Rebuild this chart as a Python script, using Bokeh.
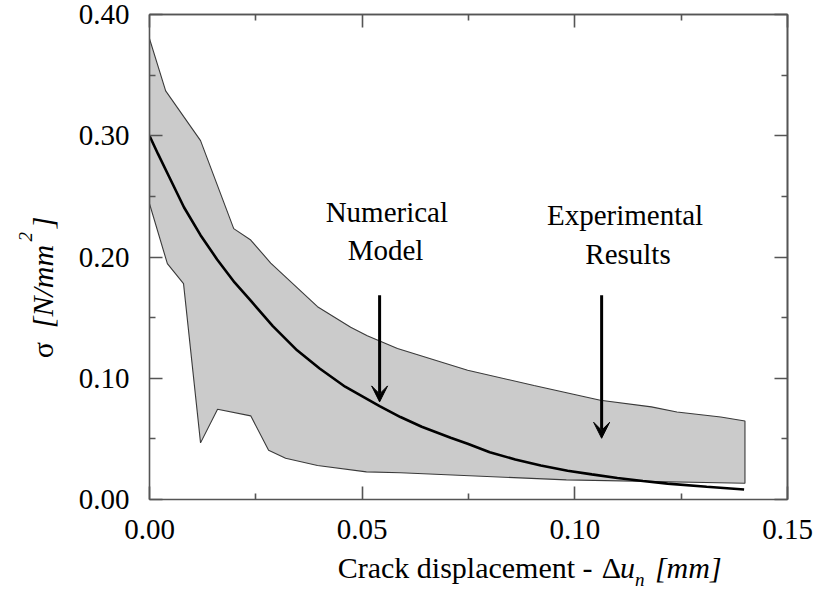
import math
from bokeh.plotting import figure
from bokeh.layouts import row, column
from bokeh.models import (Range1d, LinearAxis, FixedTicker, Label, Arrow, VeeHead)
from bokeh.embed import file_html
from bokeh.resources import INLINE

# ---------------- data ----------------
upper_x = [0.0, 0.0038, 0.012, 0.0198, 0.0238, 0.0285, 0.0395, 0.0473, 0.0512,
           0.0583, 0.0748, 0.0904, 0.106, 0.118, 0.124, 0.1343, 0.14]
upper_y = [0.380, 0.337, 0.296, 0.2234, 0.214, 0.195, 0.159, 0.142, 0.135,
           0.1245, 0.1066, 0.094, 0.0819, 0.0764, 0.0722, 0.068, 0.0648]
lower_x = [0.0, 0.0042, 0.008, 0.012, 0.016, 0.0238, 0.028, 0.032, 0.0395,
           0.051, 0.059, 0.098, 0.14]
lower_y = [0.244, 0.1945, 0.178, 0.0467, 0.0744, 0.069, 0.0406, 0.034, 0.028,
           0.0228, 0.022, 0.0162, 0.0134]
model_x = [0.0, 0.002, 0.0045, 0.0081, 0.012, 0.0159, 0.02, 0.0238, 0.029,
           0.0347, 0.04, 0.046, 0.0541, 0.059, 0.064, 0.0708, 0.0748, 0.08,
           0.086, 0.092, 0.0983, 0.104, 0.11, 0.116, 0.1218, 0.131, 0.1398]
model_y = [0.300, 0.285, 0.267, 0.241, 0.218, 0.198, 0.179, 0.164, 0.143,
           0.123, 0.108, 0.093, 0.077, 0.068, 0.060, 0.051, 0.046, 0.039,
           0.033, 0.028, 0.0237, 0.0207, 0.0178, 0.0152, 0.0131, 0.0105, 0.0082]

x_ticks = [0.0, 0.05, 0.10, 0.15]
x_tick_labels = ["0.00", "0.05", "0.10", "0.15"]
x_minor = [0.025, 0.075, 0.125]
y_ticks = [0.0, 0.10, 0.20, 0.30, 0.40]
y_tick_labels = ["0.00", "0.10", "0.20", "0.30", "0.40"]
y_minor = [0.05, 0.15, 0.25, 0.35]

arrow_x = [0.0541, 0.1063]
arrow_top = [0.1684, 0.1684]
arrow_tip = [0.0805, 0.0505]

FONT = "Liberation Serif"
AX = "#555555"

LW = 66          # width of the y-label strip
BH = 40          # height of the x-label strip
W, H = 816, 592

xr = Range1d(0, 0.15)
yr = Range1d(0, 0.40)


def bare(fig):
    fig.outline_line_color = None
    fig.grid.visible = False
    fig.background_fill_color = "white"
    fig.border_fill_color = "white"
    return fig


p = bare(figure(width=W - LW, height=H - BH, output_backend="svg",
                toolbar_location=None, x_range=xr, y_range=yr,
                x_axis_location=None, y_axis_location=None,
                min_border_left=149 - LW, min_border_right=29,
                min_border_top=14, min_border_bottom=H - BH - 499))

# envelope of experimental results
px = upper_x + lower_x[::-1]
py = upper_y + lower_y[::-1]
p.patch(px, py, fill_color="#cbcbcb", line_color="#3a3a3a", line_width=1.1)
# numerical model
p.line(model_x, model_y, line_color="black", line_width=2.6)


def style_axis(ax):
    ax.axis_line_color = AX
    ax.axis_line_width = 1.6
    ax.major_tick_line_color = AX
    ax.minor_tick_line_color = AX
    ax.major_tick_line_width = 1.6
    ax.minor_tick_line_width = 1.6
    ax.major_tick_in = 13
    ax.major_tick_out = 0
    ax.minor_tick_in = 6
    ax.minor_tick_out = 0
    return ax


def label_axis(ticks, labels, minor, standoff):
    ax = style_axis(LinearAxis(ticker=FixedTicker(ticks=ticks, minor_ticks=minor)))
    ax.major_label_overrides = {t: l for t, l in zip(ticks, labels)}
    ax.major_label_text_font = FONT
    ax.major_label_text_font_size = "29px"
    ax.major_label_text_color = "black"
    ax.major_label_standoff = standoff
    return ax


def plain_axis(positions, length):
    ax = style_axis(LinearAxis(ticker=FixedTicker(ticks=[], minor_ticks=positions)))
    ax.minor_tick_in = length
    ax.major_label_standoff = 0
    return ax


p.add_layout(label_axis(x_ticks, x_tick_labels, x_minor, 20), "below")
p.add_layout(label_axis(y_ticks, y_tick_labels, y_minor, 20), "left")
p.add_layout(plain_axis(x_ticks, 13), "above")
p.add_layout(plain_axis(x_minor, 6), "above")
p.add_layout(plain_axis(y_ticks, 13), "right")
p.add_layout(plain_axis(y_minor, 6), "right")


def lab(fig, x, y, text, size="29px", style="normal", align="left", angle=0):
    fig.add_layout(Label(x=x, y=y, text=text, text_font=FONT, text_font_size=size,
                         text_font_style=style, text_align=align,
                         text_baseline="alphabetic", angle=angle,
                         text_color="black"))


# annotations
lab(p, 0.0558, 0.2368, "Numerical", align="center")
lab(p, 0.0555, 0.2054, "Model", align="center")
lab(p, 0.1118, 0.2343, "Experimental", align="center")
lab(p, 0.1125, 0.2028, "Results", align="center")

for xa, yt, yb in zip(arrow_x, arrow_top, arrow_tip):
    p.add_layout(Arrow(x_start=xa, y_start=yt, x_end=xa, y_end=yb,
                       line_width=3, line_color="black",
                       end=VeeHead(size=16, fill_color="black", line_color="black")))

# ---- x-axis title strip (shares the x range; y in pixels from top) ----
bx = bare(figure(width=W - LW, height=BH, output_backend="svg",
                 toolbar_location=None, x_range=xr, y_range=Range1d(H, H - BH),
                 x_axis_location=None, y_axis_location=None,
                 min_border_left=149 - LW, min_border_right=29,
                 min_border_top=0, min_border_bottom=0))
lab(bx, 0.04424, 567, "Crack displacement - ", size="30px")
lab(bx, 0.10635, 567, "\u0394", size="30px")
lab(bx, 0.11059, 567, "u", size="30px", style="italic")
lab(bx, 0.11412, 579, "n", size="19px", style="italic")
lab(bx, 0.11882, 567, "[mm]", size="30px", style="italic")

# ---- y-axis title strip (shares the y range; x in pixels) ----
ly = bare(figure(width=LW, height=H, output_backend="svg",
                 toolbar_location=None, x_range=Range1d(0, LW), y_range=yr,
                 x_axis_location=None, y_axis_location=None,
                 min_border_left=0, min_border_right=0,
                 min_border_top=14, min_border_bottom=H - 499))
ang = math.pi / 2
lab(ly, 42, 0.1165, "\u03c3", size="30px", angle=ang)
lab(ly, 42, 0.1413, "[N/mm", size="30px", style="italic", angle=ang)
lab(ly, 25, 0.2128, "2", size="19px", style="italic", angle=ang)
lab(ly, 42, 0.2237, "]", size="30px", style="italic", angle=ang)

layout = row(ly, column(p, bx, spacing=0), spacing=0)
open("out.html", "w").write(file_html(layout, INLINE))
